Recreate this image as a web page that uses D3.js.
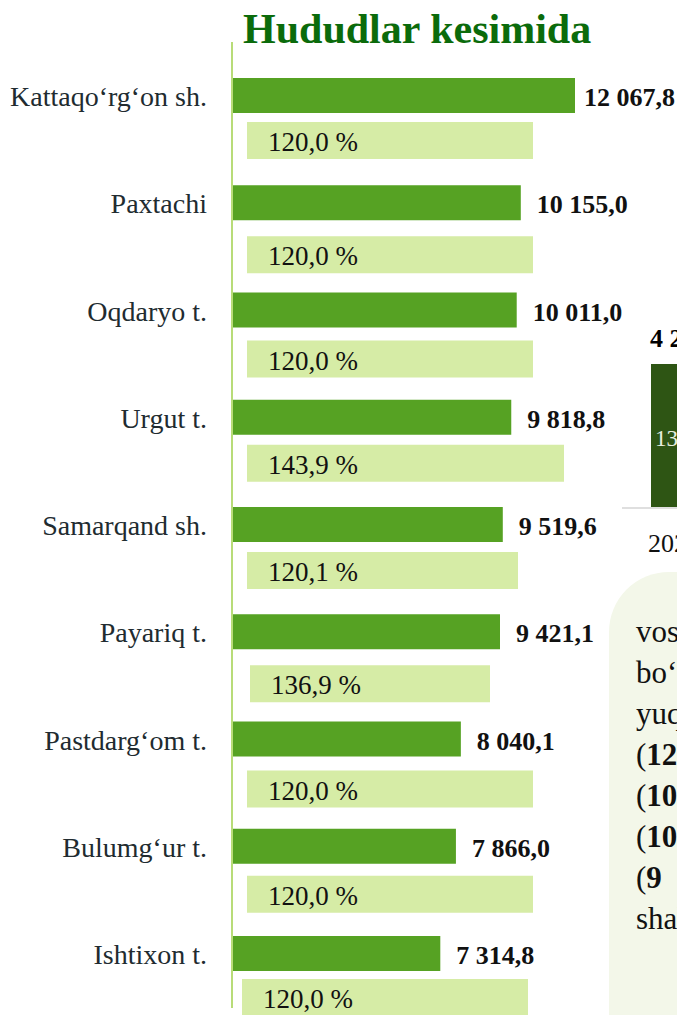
<!DOCTYPE html>
<html>
<head>
<meta charset="utf-8">
<script src="https://cdn.jsdelivr.net/npm/d3@7"></script>
<style>
  body { margin: 0; background: #fff; }
  svg { display: block; font-family: "Liberation Serif", "Times New Roman", serif; }
</style>
</head>
<body>
<script>
var regions = ['Kattaqo‘rg‘on sh.', 'Paxtachi', 'Oqdaryo t.', 'Urgut t.', 'Samarqand sh.', 'Payariq t.', 'Pastdarg‘om t.', 'Bulumg‘ur t.', 'Ishtixon t.'];
var values = [12067.8, 10155.0, 10011.0, 9818.8, 9519.6, 9421.1, 8040.1, 7866.0, 7314.8];
var growth = [120.0, 120.0, 120.0, 143.9, 120.1, 136.9, 120.0, 120.0, 120.0];
var noteLines = ['vositalari', 'bo‘lgan', 'yuqori', '12 067,8', '10 155,0', '10 011,0', '9 818,8', 'shahar'];

// the light boxes behind the % labels are hand-placed in the original
var boxLeft = [247, 247, 247, 247, 247, 250, 247, 247, 242];
var boxRight = [533, 533, 533, 564, 518, 490, 533, 533, 528];
var boxDrop = [44, 51, 48, 45, 45, 51, 49, 47, 43];

var width = 677;
var height = 1015;
var left = 233;
var barH = 35;
var boxH = 37;

var fmt = function(v){
	return d3.format(',.1f')(v).replace(/,/g,' ').replace('.',',');
};

var svg = d3.select('body')
			.append('svg')
			.attr('width',width)
			.attr('height',height);

var x = d3.scaleLinear()
			.domain([0,12067.8])
			.range([0,342]);
var y = d3.scaleBand()
			.domain(regions)
			.range([78,78+107.25*regions.length]);

// right side panel (cut off)
svg.append('path')
	.attr('d','M609,'+(572+60)+' A60,60 0 0 1 669,572 L700,572 L700,1020 L609,1020 Z')
	.attr('fill','#f3f7e9');
svg.append('line')
	.attr('x1',622).attr('x2',677)
	.attr('y1',508).attr('y2',508)
	.attr('stroke','#d4d4d4').attr('stroke-width',1.5);
svg.append('rect')
	.attr('x',651).attr('y',364)
	.attr('width',40).attr('height',143)
	.attr('fill','#2e5514');
svg.append('text')
	.attr('x',650).attr('y',347)
	.attr('font-size',26).attr('font-weight','bold')
	.text('4 2');
svg.append('text')
	.attr('x',655).attr('y',446)
	.attr('font-size',23).attr('fill','#e8efe0')
	.text('13');
svg.append('text')
	.attr('x',648).attr('y',552)
	.attr('font-size',26).attr('fill','#111')
	.text('202');
var note = svg.append('g')
			.selectAll('text')
			.data(noteLines)
			.enter()
			.append('text')
			.attr('x',636)
			.attr('y',(d,i)=>642+i*41)
			.attr('font-size',31)
			.attr('fill','#111');
note.each(function(d,i){
	var t = d3.select(this);
	if(i>=3 && i<=6){
		var parts = d.split(' ');
		t.append('tspan').text('(');
		t.append('tspan').attr('font-weight','bold').text(parts[0]);
		// justified line: wide gap before the rest
		t.append('tspan').attr('font-weight','bold').attr('dx',parts[0].length==1 ? 24 : 8).text(parts.slice(1).join(' '));
	} else {
		t.text(d);
	}
});

// title
svg.append('text')
	.attr('x',243).attr('y',43)
	.attr('font-size',42).attr('font-weight','bold')
	.attr('fill','#0b6b0b')
	.text('Hududlar kesimida');

// axis line
svg.append('line')
	.attr('x1',232).attr('x2',232)
	.attr('y1',42).attr('y2',1008)
	.attr('stroke','#b8dc78').attr('stroke-width',2);

var rows = svg.append('g')
			.selectAll('g')
			.data(regions)
			.enter()
			.append('g');

rows.append('rect')
	.attr('x',left)
	.attr('y',(d)=>y(d))
	.attr('width',(d,i)=>x(values[i]))
	.attr('height',barH)
	.attr('fill','#56a223');

rows.append('rect')
	.attr('x',(d,i)=>boxLeft[i])
	.attr('y',(d,i)=>y(d)+boxDrop[i])
	.attr('width',(d,i)=>boxRight[i]-boxLeft[i])
	.attr('height',boxH)
	.attr('fill','#d6eca6');

rows.append('text')
	.attr('x',(d,i)=>boxLeft[i]+21)
	.attr('y',(d,i)=>y(d)+boxDrop[i]+29)
	.attr('font-size',27)
	.attr('fill','#111')
	.text((d,i)=>fmt(growth[i])+' %');

rows.append('text')
	.attr('x',207)
	.attr('y',(d)=>y(d)+28)
	.attr('text-anchor','end')
	.attr('font-size',28)
	.attr('fill','#212b30')
	.text((d)=>d);

rows.append('text')
	.attr('x',(d,i)=>left+x(values[i])+16)
	.attr('y',(d)=>y(d)+28)
	.attr('font-size',26)
	.attr('font-weight','bold')
	.attr('fill','#111')
	.text((d,i)=>fmt(values[i]))
	.each(function(){
		var t = d3.select(this);
		var w = this.getComputedTextLength();
		var x0 = +t.attr('x');
		if(x0+w>width-2) t.attr('x',width-2-w);
	});
</script>
</body>
</html>
